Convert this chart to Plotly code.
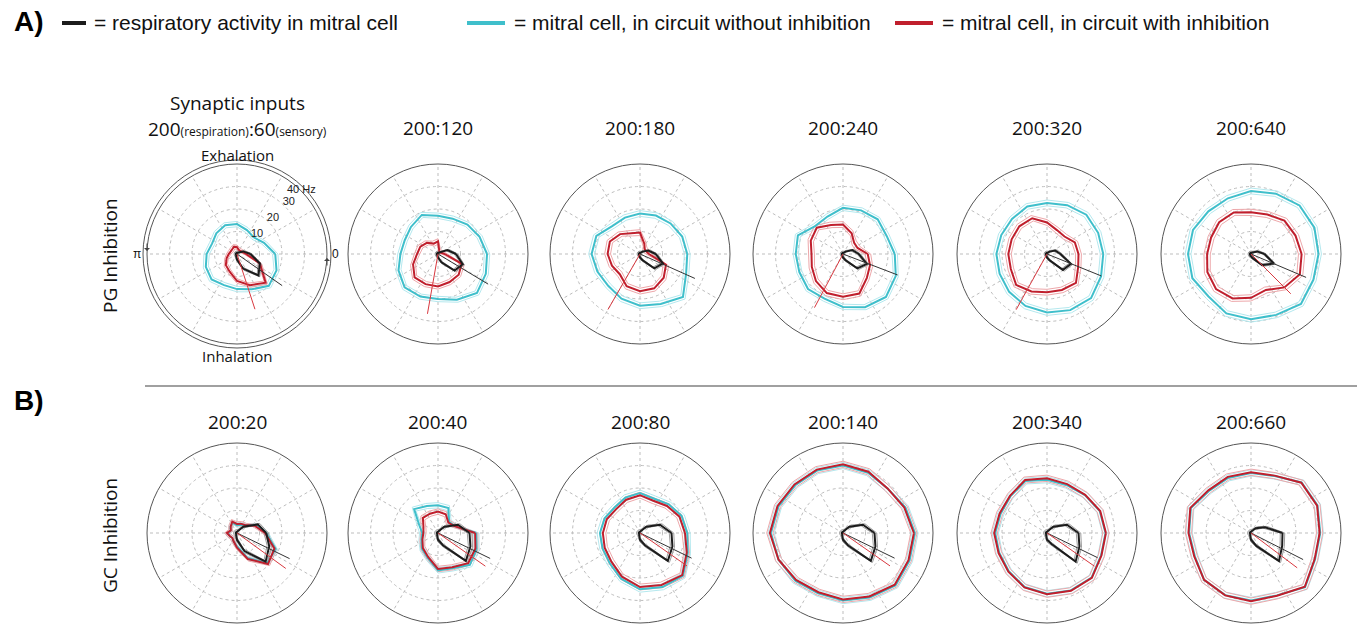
import math
import plotly.graph_objects as go

W, H = 1357, 624

# phase bins of the respiratory cycle (degrees, 0 = start of cycle, counter-clockwise)
PHASE_DEG = [0, 22.5, 45, 67.5, 90, 112.5, 135, 157.5, 180, 202.5, 225, 247.5, 270, 292.5, 315, 337.5]

# ---------------- A) PG inhibition ----------------
PG_TITLES = ["200:60", "200:120", "200:180", "200:240", "200:320", "200:640"]

PG_CYAN = [
    [17, 13, 10.5, 11.5, 13.3, 13.8, 13, 12, 13.5, 15, 16, 15, 15.6, 17, 20, 19],
    [21.8, 20, 18.5, 17, 17, 18.8, 17, 16, 16.7, 19, 21, 20.5, 20, 22, 24.5, 23],
    [21, 20.3, 19.2, 18.5, 18, 17.5, 17.5, 21, 21.5, 20.5, 20, 21.5, 23, 24, 27, 22.2],
    [23, 21, 21.8, 21, 20.5, 18, 17.5, 21.7, 21, 21, 22, 21.5, 23.5, 25.6, 27, 25.4],
    [25, 24.6, 24.7, 23.5, 22.7, 22.9, 22, 22, 22.5, 22.8, 23.8, 25, 26, 27, 27.7, 26],
    [30, 30.5, 30.5, 29, 28, 26.8, 26.8, 27.9, 28, 28.2, 26.7, 28.6, 29, 29.3, 31.4, 30],
]
PG_RED = [
    [4, 2.5, 2, 2, 3, 3.5, 3, 3, 3.7, 5, 7, 8.5, 12, 15, 18, 11],
    [3, 1.5, 1, 1.5, 5.6, 5, 7, 8.5, 9.3, 12, 14.7, 14.5, 14.4, 13.5, 13, 11.4],
    [4, 3, 3, 5, 9.5, 10, 12.5, 14.5, 14.4, 13.5, 12.7, 15.5, 16.5, 16.5, 14.9, 12.5],
    [11, 7, 7, 10, 13.1, 14, 16.5, 15.5, 14, 15, 17, 18.8, 19, 19, 15, 13],
    [14, 13.4, 11, 11.5, 14, 17.2, 17.4, 17, 17.2, 17.4, 19.4, 18, 17, 17.3, 18.2, 15],
    [22.5, 21.4, 21, 19, 18.5, 20, 20, 19.2, 19.5, 21, 22, 21.4, 19.5, 17.3, 21, 23.5],
]
PG_BLACK = [
    [6, 3, 1, 0.5, 0.5, 0.5, 0.5, 0.5, 0.5, 0.5, 0.5, 1, 2.5, 7, 13.5, 11],
    [8, 4.5, 1, 0.5, 0.5, 0.5, 0.5, 0.5, 0.5, 0.5, 0.5, 0.8, 1.5, 4, 10.4, 11.9],
    [7, 4, 1.5, 0.5, 0.5, 0.5, 0.5, 0.5, 0.5, 0.5, 0.5, 0.8, 1.5, 3, 9, 11],
    [7, 4.5, 1.5, 0.5, 0.5, 0.5, 0.5, 0.5, 0.5, 0.5, 0.5, 0.8, 1.5, 3, 9, 11.5],
    [6, 4, 1.5, 0.5, 0.5, 0.5, 0.5, 0.5, 0.5, 0.5, 0.5, 0.8, 1.5, 3, 10, 11.5],
    [6, 3, 1, 0.5, 0.5, 0.5, 0.5, 0.5, 0.5, 0.5, 0.5, 0.8, 1, 2, 7, 11],
]
PG_CYAN_SEM = [1.2, 1.2, 1.3, 1.2, 1.3, 1.3]
PG_RED_SEM = [1.0, 1.2, 1.3, 1.3, 1.3, 1.4]
PG_BLACK_SEM = [0.8, 0.8, 0.8, 0.8, 0.8, 0.8]
PG_BLACK_VEC_ANGLE = [325, 329, 336, 339, 338, 337]
PG_BLACK_VEC_LEN = [24.5, 26, 26.7, 26, 26, 26.6]
PG_RED_VEC_ANGLE = [288, 260, 240, 242, 241, 315]
PG_RED_VEC_LEN = [25.8, 27, 28.5, 27, 28.3, 25]

# ---------------- B) GC inhibition ----------------
GC_TITLES = ["200:20", "200:40", "200:80", "200:140", "200:340", "200:660"]

GC_CYAN = [
    [13, 9, 5, 4, 3.5, 5, 4, 3, 4, 3.5, 3, 4, 6, 12, 19, 18.6],
    [17, 8, 7, 12, 12.3, 13, 15, 9, 7, 8, 10, 12, 16.6, 17, 20, 18.6],
    [21, 20, 18, 16.5, 17.8, 17, 16, 17, 17.8, 18, 19, 22, 25, 26, 27, 23],
    [32, 30, 28, 29, 30, 30, 30, 31, 32, 31, 30, 29, 30, 31, 33, 32],
    [26, 25.4, 23.8, 23, 23.7, 25, 23, 22.3, 23, 23, 24, 26, 27, 27.6, 28, 26],
    [30.8, 32, 31.8, 27.4, 26.7, 26.5, 26.4, 28.9, 27.5, 27, 29.5, 29.9, 30, 30, 34, 30.8],
]
GC_RED = [
    [12.5, 8.5, 5, 4.5, 4, 5.5, 4, 3, 4.5, 3.5, 3, 4, 6.5, 12.5, 19.5, 18],
    [16.5, 8, 6.5, 9, 9.5, 9.3, 9.5, 7, 6.5, 7.5, 9.5, 11.5, 16, 16.5, 19, 18],
    [20, 19, 17, 15.5, 16.8, 16, 15, 16, 16.5, 17, 18, 21, 24, 25, 26.5, 22.5],
    [31.5, 29.5, 28, 29.5, 30.5, 30.5, 30.5, 31.5, 32.5, 31, 29.5, 28.5, 29.5, 30.5, 32.5, 31.5],
    [26.2, 25.6, 24, 23.5, 24.3, 25.5, 23.3, 22.8, 23.5, 23.3, 24.3, 26.2, 27.2, 27.8, 28.2, 26.2],
    [30.5, 31.8, 31.6, 27.6, 27, 27, 26.8, 29.2, 27.8, 27.3, 29.5, 30, 30.3, 30.2, 33.8, 30.6],
]
GC_BLACK = [
    [13, 10, 4, 1, 0.5, 0.5, 0.5, 0.5, 0.5, 0.5, 0.5, 1, 3, 8.7, 18, 15.5],
    [14, 9.6, 4, 1, 0.5, 0.5, 0.5, 0.5, 0.5, 0.5, 0.5, 1, 3, 6, 17.5, 15.6],
    [14, 9.6, 4, 1, 0.5, 0.5, 0.5, 0.5, 0.5, 0.5, 0.5, 1, 3, 6, 17.5, 15.6],
    [14, 9.6, 4, 1, 0.5, 0.5, 0.5, 0.5, 0.5, 0.5, 0.5, 1, 3, 6, 17.5, 15.6],
    [14, 9.6, 4, 1, 0.5, 0.5, 0.5, 0.5, 0.5, 0.5, 0.5, 1, 3, 5.3, 18, 15.6],
    [14, 6.7, 3, 1, 0.5, 0.5, 0.5, 0.5, 0.5, 0.5, 0.5, 1, 3, 6.2, 17.6, 15],
]
GC_CYAN_SEM = [1.0, 1.2, 1.3, 1.4, 1.4, 1.4]
GC_RED_SEM = [1.0, 1.2, 1.3, 1.4, 1.4, 1.4]
GC_BLACK_SEM = [1.0, 1.0, 1.0, 1.0, 1.0, 1.0]
GC_BLACK_VEC_ANGLE = [334, 334, 334, 334, 334, 333]
GC_BLACK_VEC_LEN = [26, 25.8, 25.5, 25.5, 25, 26]
GC_RED_VEC_ANGLE = [324, 325, 325, 325, 325, 323]
GC_RED_VEC_LEN = [26.8, 25.7, 25.5, 25.5, 25.7, 25.7]

RADIAL_TICKS = [10, 20, 30]

# ---------------- styling ----------------
CYAN, CYAN_LIGHT = "#3fbfcb", "#b4e8ee"
RED, RED_LIGHT = "#c01f2d", "#eda7aa"
BLACK, GRAY = "#1c1c1c", "#9c9c9c"
GRID = "#bdbdbd"
R_MAX = 40
CENTERS_X = [237, 438, 640, 843, 1047, 1251]
ROW_Y = [254, 533]
RADIUS_PX = 90
PX_PER_HZ = RADIUS_PX / R_MAX

TITLE_FONT = "Open Sans, Noto Sans, sans-serif"
ARIAL = "Liberation Sans, Arial, sans-serif"

fig = go.Figure()
theta_closed = PHASE_DEG + [360]


def closed(vals):
    return list(vals) + [vals[0]]


def band(vals, sem, sign):
    return [max(v + sign * sem, 0) for v in vals]


def add_panel(idx, cyan, red, black, csem, rsem, bsem, bang, blen, rang, rlen):
    sp = "polar" if idx == 1 else f"polar{idx}"
    # spread outlines
    for vals, sem, col in ((cyan, csem, CYAN_LIGHT), (red, rsem, RED_LIGHT), (black, bsem, GRAY)):
        for s in (1, -1):
            fig.add_trace(go.Scatterpolar(
                r=closed(band(vals, sem, s)), theta=theta_closed, mode="lines",
                line=dict(color=col, width=1), subplot=sp, hoverinfo="skip"))
    # mean firing rate per phase
    for vals, col in ((cyan, CYAN), (red, RED), (black, BLACK)):
        fig.add_trace(go.Scatterpolar(
            r=closed(vals), theta=theta_closed, mode="lines",
            line=dict(color=col, width=2), subplot=sp))
    # preferred-phase vectors
    fig.add_trace(go.Scatterpolar(r=[0, blen], theta=[bang, bang], mode="lines",
                                  line=dict(color="#333333", width=1), subplot=sp))
    fig.add_trace(go.Scatterpolar(r=[0, rlen], theta=[rang, rang], mode="lines",
                                  line=dict(color="#d8383f", width=1), subplot=sp))


for i in range(6):
    add_panel(i + 1, PG_CYAN[i], PG_RED[i], PG_BLACK[i], PG_CYAN_SEM[i], PG_RED_SEM[i],
              PG_BLACK_SEM[i], PG_BLACK_VEC_ANGLE[i], PG_BLACK_VEC_LEN[i],
              PG_RED_VEC_ANGLE[i], PG_RED_VEC_LEN[i])
for i in range(6):
    add_panel(i + 7, GC_CYAN[i], GC_RED[i], GC_BLACK[i], GC_CYAN_SEM[i], GC_RED_SEM[i],
              GC_BLACK_SEM[i], GC_BLACK_VEC_ANGLE[i], GC_BLACK_VEC_LEN[i],
              GC_RED_VEC_ANGLE[i], GC_RED_VEC_LEN[i])

# radial scale labels on the first panel
fig.add_trace(go.Scatterpolar(
    r=[t + 2.6 for t in RADIAL_TICKS], theta=[45] * 3,
    text=[str(t) for t in RADIAL_TICKS], mode="text", cliponaxis=False, subplot="polar",
    textfont=dict(family=ARIAL, size=11, color="#222")))


def polar_layout(cx, cy):
    return dict(
        domain=dict(x=[(cx - RADIUS_PX) / W, (cx + RADIUS_PX) / W],
                    y=[1 - (cy + RADIUS_PX) / H, 1 - (cy - RADIUS_PX) / H]),
        bgcolor="white",
        angularaxis=dict(rotation=0, direction="counterclockwise", dtick=30,
                         showgrid=True, gridcolor=GRID, griddash="dot", gridwidth=1,
                         showticklabels=False, ticks="", showline=True,
                         linecolor="#555555", linewidth=1),
        radialaxis=dict(range=[0, R_MAX], tickvals=RADIAL_TICKS, showgrid=True,
                        gridcolor=GRID, griddash="dot", gridwidth=1, showline=False,
                        showticklabels=False, ticks=""),
    )


layout = dict(width=W, height=H, margin=dict(l=0, r=0, t=0, b=0),
              paper_bgcolor="white", plot_bgcolor="white", showlegend=False)
k = 1
for row in range(2):
    for cx in CENTERS_X:
        name = "polar" if k == 1 else f"polar{k}"
        layout[name] = polar_layout(cx, ROW_Y[row])
        k += 1
fig.update_layout(**layout)


def px(x):
    return x / W


def py(y):
    return 1 - y / H


ann = []


def text(x, y, s, size, family=TITLE_FONT, color="#111", xanchor="center", **kw):
    ann.append(dict(x=px(x), y=py(y), xref="paper", yref="paper", text=s, showarrow=False,
                    xanchor=xanchor, yanchor="middle",
                    font=dict(family=family, size=size, color=color), **kw))


# panel titles
text(237, 103, "Synaptic inputs", 19)
text(237, 129, "200<span style='font-size:12px'>(respiration)</span>:60"
               "<span style='font-size:12px'>(sensory)</span>", 19)
for i in range(1, 6):
    text(CENTERS_X[i], 128, PG_TITLES[i], 19)
for i in range(6):
    text(CENTERS_X[i], 422, GC_TITLES[i], 19)
# row labels
text(110, 255, "PG Inhibition", 19, textangle=-90)
text(110, 535, "GC Inhibition", 19, textangle=-90)
text(12, 22, "<b>A)</b>", 28, family=ARIAL, color="#000", xanchor="left")
text(12, 400, "<b>B)</b>", 28, family=ARIAL, color="#000", xanchor="left")

# respiratory phase labels around the first panel
cx0, cy0 = CENTERS_X[0], ROW_Y[0]
text(cx0, cy0 - 44.2 * PX_PER_HZ, "Exhalation", 15)
text(cx0, cy0 + 45.2 * PX_PER_HZ, "Inhalation", 15)
text(cx0 - 44.3 * PX_PER_HZ, cy0, "π", 12, family=ARIAL)
text(cx0 + 41.3 * PX_PER_HZ, cy0, "0", 12, family=ARIAL, xanchor="left")
a45 = math.radians(45)
text(cx0 + 40.6 * PX_PER_HZ * math.cos(a45), cy0 - 40.6 * PX_PER_HZ * math.sin(a45),
     "40 Hz", 11, family=ARIAL, color="#222")

# legend
LEGEND = [(62, 86, BLACK, 92, "= respiratory activity in mitral cell"),
          (467, 505, CYAN, 512, "= mitral cell, in circuit without inhibition"),
          (895, 933, RED, 940, "= mitral cell, in circuit with inhibition")]
shapes = []
for x0, x1, col, tx, txt in LEGEND:
    shapes.append(dict(type="line", xref="paper", yref="paper", x0=px(x0), x1=px(x1),
                       y0=py(23), y1=py(23), line=dict(color=col, width=4)))
    text(tx, 23, txt, 21, family=ARIAL, xanchor="left")
# separator
shapes.append(dict(type="line", xref="paper", yref="paper", x0=px(145), x1=1,
                   y0=py(386), y1=py(386), line=dict(color="#a0a0a0", width=2)))
# respiratory cycle ring around the first panel
rr = RADIUS_PX + 4
shapes.append(dict(type="circle", xref="paper", yref="paper", x0=px(cx0 - rr), x1=px(cx0 + rr),
                   y0=py(cy0 + rr), y1=py(cy0 - rr), line=dict(color="#555555", width=1)))
ann.append(dict(x=px(cx0 - rr + 4), y=py(cy0 - 3), xref="paper", yref="paper",
                ax=0, ay=-9, text="", showarrow=True,
                arrowhead=1, arrowsize=1, arrowwidth=1, arrowcolor="#444"))
ann.append(dict(x=px(cx0 + rr - 4), y=py(cy0 + 4), xref="paper", yref="paper",
                ax=0, ay=9, text="", showarrow=True,
                arrowhead=1, arrowsize=1, arrowwidth=1, arrowcolor="#444"))

fig.update_layout(annotations=ann, shapes=shapes)
fig.write_html("out.html")
